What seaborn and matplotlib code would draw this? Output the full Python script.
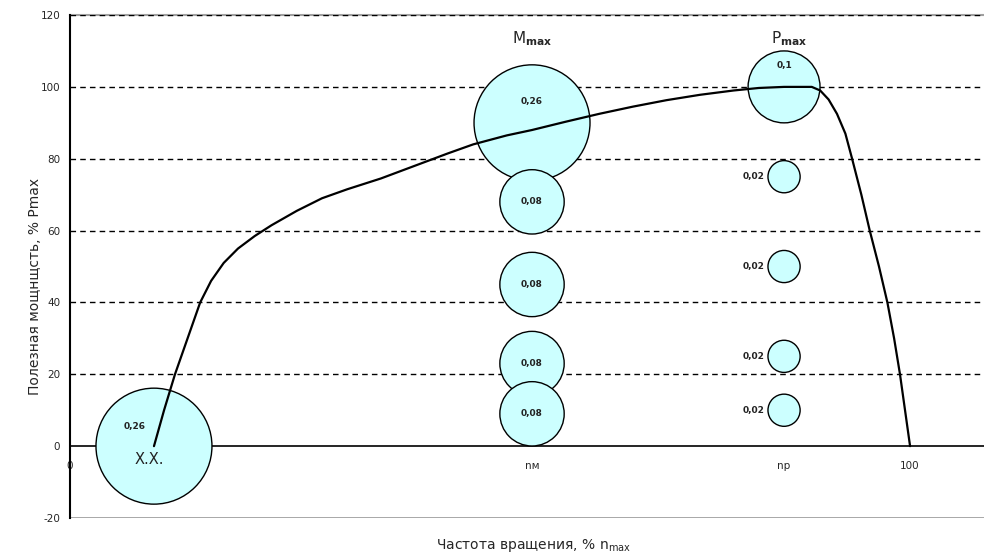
import matplotlib
matplotlib.use("Agg")
import matplotlib.pyplot as plt
import pandas as pd
import seaborn as sns

# Power curve: useful power (% Pmax) against rotation speed (% nmax)
speed = [10, 11.2, 12.5, 14, 15.5, 16.8, 18.3, 20, 22, 24, 27, 30, 33, 37,
         41, 45, 48, 52, 55, 59, 63, 67, 71, 75, 79, 82, 85, 88.3, 89.3,
         90.3, 91.3, 92.3, 93.1, 94.2, 95.2, 96.3, 97.3, 98.1, 98.8, 99.4, 100]
power = [0, 10, 20, 30, 40, 46, 51, 55, 58.5, 61.5, 65.5, 69, 71.5, 74.5,
         78, 81.5, 84, 86.5, 88, 90.3, 92.5, 94.5, 96.3, 97.8, 99, 99.7, 100,
         100, 99, 96.5, 92.5, 87, 80, 70, 60, 50, 40, 30, 20, 10, 0]

# Operating-mode bubbles: position and time share
mode_speed = [10, 55, 55, 55, 55, 55, 85, 85, 85, 85, 85]
mode_power = [0, 90, 68, 45, 23, 9, 100, 75, 50, 25, 10]
mode_share = [0.26, 0.26, 0.08, 0.08, 0.08, 0.08, 0.1, 0.02, 0.02, 0.02, 0.02]
mode_text = ["0,26", "0,26", "0,08", "0,08", "0,08", "0,08",
             "0,1", "0,02", "0,02", "0,02", "0,02"]

x_ticks = [0, 55, 85, 100]
x_tick_labels = ["0", "nм", "nр", "100"]
y_ticks = [-20, 0, 20, 40, 60, 80, 100, 120]

sns.set_style("white")
plt.rcParams["font.family"] = ["DejaVu Sans"]

fig = plt.figure(figsize=(9.84, 5.57), dpi=100)
ax = fig.add_axes([0.0711, 0.070, 0.9289, 0.903])
ax.set_xlim(0, 108.8)
ax.set_ylim(-20, 120)

# dashed horizontal grid
for yv in y_ticks:
    if yv > 0:
        ax.axhline(yv, color="black", lw=1.0, ls=(0, (4, 3)), zorder=1)

modes = pd.DataFrame({"speed": mode_speed, "power": mode_power,
                      "share": mode_share})
sns.scatterplot(data=modes, x="speed", y="power", size="share",
                sizes=(0, 6973), size_norm=(0, 0.26), color="#ccffff",
                edgecolor="black", linewidth=1.0, legend=False, ax=ax,
                zorder=3)

curve = pd.DataFrame({"speed": speed, "power": power})
sns.lineplot(data=curve, x="speed", y="power", sort=False, color="black",
             lw=1.6, ax=ax, zorder=4)

# bubble value labels
lab = dict(fontsize=6.5, fontweight="bold", color="#222222", zorder=5,
           va="center")
for sx, py, w, t in zip(mode_speed, mode_power, mode_share, mode_text):
    if w == 0.02:
        ax.text(sx - 2.3, py, t, ha="right", **lab)
    elif sx == 10:
        ax.text(sx - 2.3, py + 5.5, t, ha="center", **lab)
    elif w in (0.26, 0.1):
        ax.text(sx, py + 6, t, ha="center", **lab)
    else:
        ax.text(sx, py, t, ha="center", **lab)

ax.text(9.5, -3.6, "X.X.", ha="center", va="center", fontsize=10.5,
        color="#222222", zorder=5)
ax.text(55, 113.3, r"M$_{\mathbf{max}}$", ha="center", va="center",
        fontsize=11, zorder=5)
ax.text(85.6, 113.3, r"P$_{\mathbf{max}}$", ha="center", va="center",
        fontsize=11, zorder=5)

# axes frame: horizontal axis at zero, gray border
ax.spines["bottom"].set_position(("data", 0))
ax.spines["bottom"].set_color("black")
ax.spines["bottom"].set_linewidth(1.2)
ax.spines["left"].set_color("black")
ax.spines["left"].set_linewidth(1.5)
ax.spines["top"].set_color("#a0a0a0")
ax.spines["top"].set_linewidth(1.5)
ax.spines["top"].set_zorder(0.5)
ax.spines["right"].set_visible(False)
ax.axhline(-20, color="#a0a0a0", lw=2.0, zorder=2)

ax.set_xticks(x_ticks)
ax.set_xticklabels(x_tick_labels, fontsize=7.5)
ax.set_yticks(y_ticks)
ax.set_yticklabels([str(v) for v in y_ticks], fontsize=7.5)
ax.tick_params(axis="y", direction="out", length=4, width=1, pad=3)
ax.tick_params(axis="x", direction="out", length=3, width=1, pad=8)

ax.set_xlabel("")
ax.set_ylabel("")
fig.text(0.542, 0.021, r"Частота вращения, % n$_{\mathregular{max}}$",
         ha="center", va="center", fontsize=10)
fig.text(0.036, 0.485, "Полезная мощнщсть, % Pmax", rotation=90,
         ha="center", va="center", fontsize=10)

fig.savefig("out.png", dpi=100)
